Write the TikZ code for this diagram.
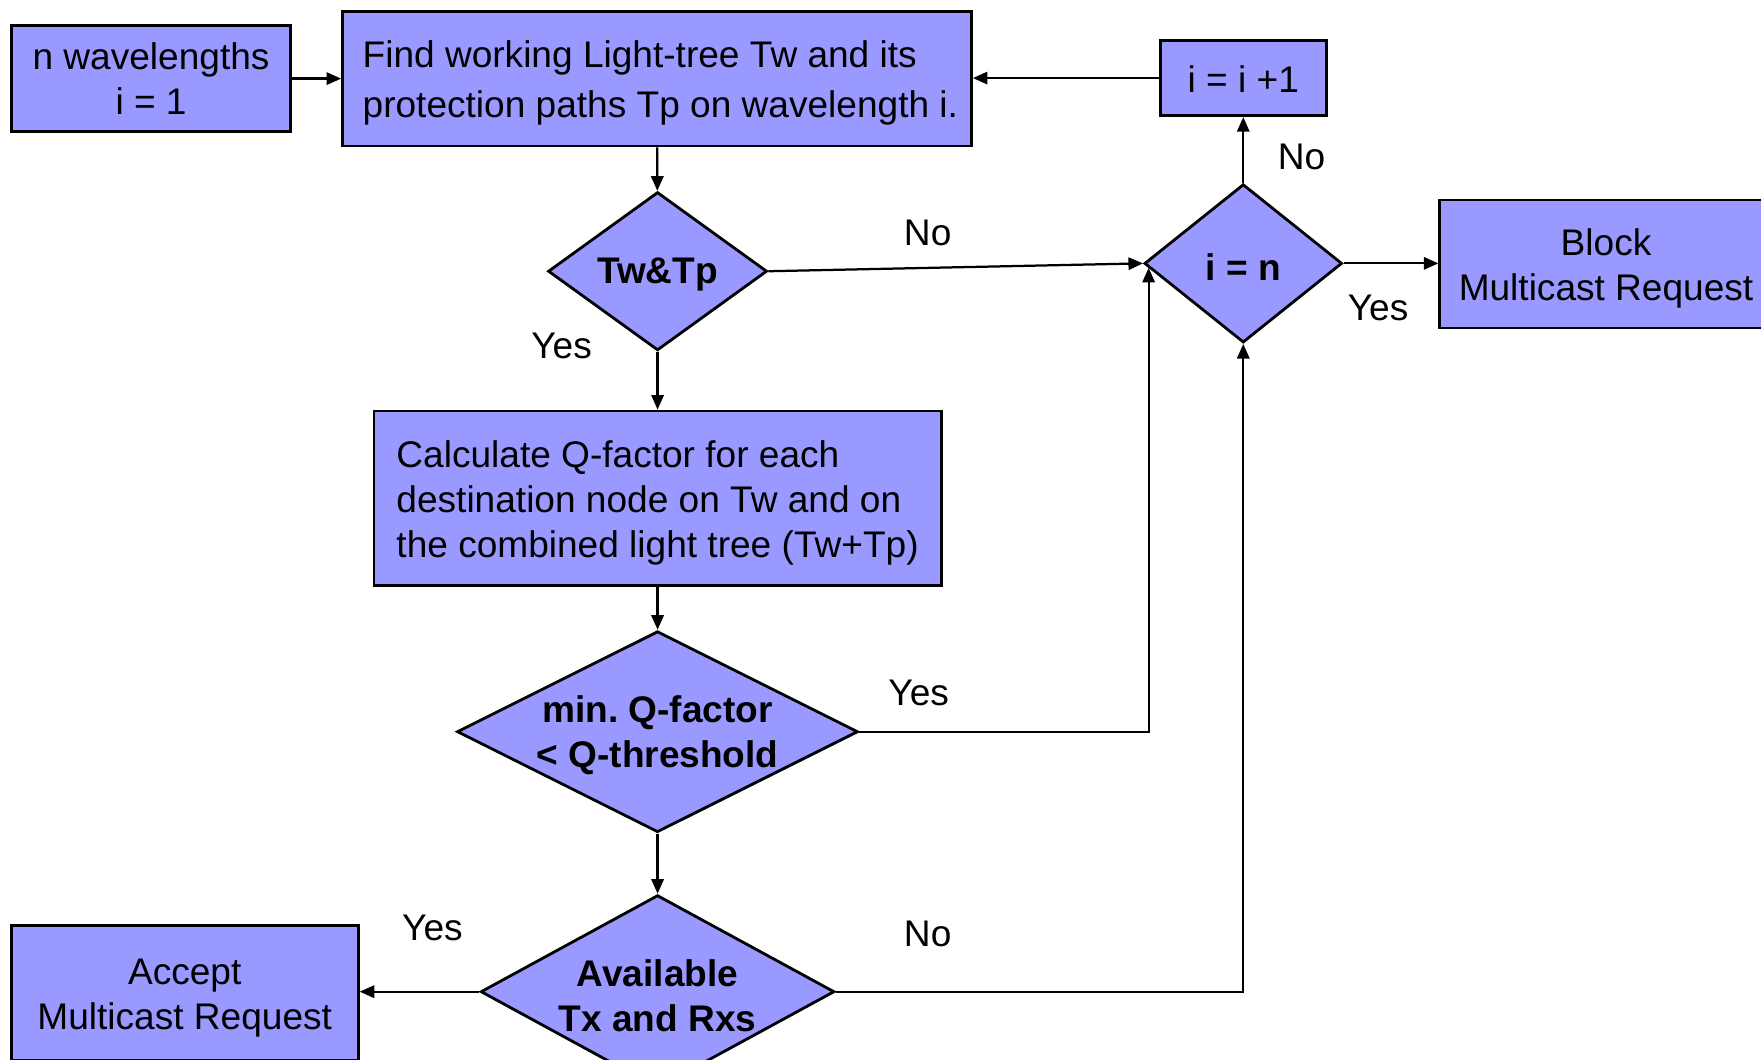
\documentclass[tikz,border=0pt]{standalone}
\usepackage{fontspec}
\setmainfont{Liberation Sans}
\usetikzlibrary{shapes.geometric,arrows.meta,calc}
\definecolor{boxfill}{HTML}{9999FF}
\frenchspacing
\begin{document}
\begin{tikzpicture}[x=1pt,y=-1pt,
  every node/.style={font=\fontsize{33}{40}\selectfont},
  box/.style={draw=black, line width=2.5pt, fill=boxfill, inner sep=0pt},
  dia/.style={diamond, draw=black, line width=2.5pt, fill=boxfill, inner sep=0pt},
  btext/.style={inner sep=0pt, align=center, yshift=-4pt, font=\fontsize{33}{40}\selectfont},
  dtext/.style={inner sep=0pt, align=center, yshift=-3pt, font=\fontsize{33}{40}\selectfont\bfseries},
  conn/.style={line width=2pt, -{Triangle[length=13pt,width=11pt]}},
  lbl/.style={inner sep=0pt}]
\useasboundingbox (0,0) rectangle (1568,943);
\clip (0,0) rectangle (1568,943);

\node[box, minimum width=249pt, minimum height=94pt, label={[btext,yshift=4pt]center:{n wavelengths\\i = 1}}] (a) at (134.5,70) {};
\node[box, minimum width=560pt, minimum height=120pt, label={[btext, align=left, xshift=3pt, font=\fontsize{33}{45}\selectfont]center:{Find working Light-tree Tw and its\\protection paths Tp on wavelength i.}}] (b) at (585,70) {};
\node[box, minimum width=148pt, minimum height=67pt, label={[btext,yshift=3pt]center:{i = i +1}}] (c) at (1107,69.5) {};
\node[dia, minimum width=195pt, minimum height=141pt, label={[dtext]center:Tw\&Tp}] (d1) at (585.5,241.5) {};
\node[dia, minimum width=176pt, minimum height=141pt, label={[dtext]center:i = n}] (dn) at (1107,234.5) {};
\node[box, minimum width=296pt, minimum height=114pt, label={[btext]center:{Block\\Multicast Request}}] (blk) at (1430,235) {};
\node[box, minimum width=505pt, minimum height=155pt, label={[btext, align=left]center:{Calculate Q-factor for each\\destination node on Tw and on\\the combined light tree (Tw+Tp)}}] (e) at (585.5,443.5) {};
\node[dia, minimum width=357pt, minimum height=179pt, label={[dtext]center:{min. Q-factor\\< Q-threshold}}] (d2) at (585.5,651.5) {};
\node[dia, minimum width=315pt, minimum height=172pt, label={[dtext,yshift=-1pt]center:{Available\\Tx and Rxs}}] (d3) at (585.5,883) {};
\node[box, minimum width=309pt, minimum height=120pt, label={[btext,yshift=-1pt]center:{Accept\\Multicast Request}}] (acc) at (164.5,884) {};

\coordinate (jn) at ([xshift=5pt,yshift=-4pt]dn.west);

\draw[conn] (a) -- (b);
\draw[conn] (c.west) -- (c.west -| b.east);
\draw[conn] (b) -- (d1);
\draw[conn] (d1.east) -- (dn.west);
\draw[conn] (d1) -- (e);
\draw[conn] (dn) -- (c);
\draw[conn] (dn.east) -- (dn.east -| blk.west);
\draw[conn] (e) -- (d2);
\draw[conn] (d2) -- (d3);
\draw[conn] (d2.east) -| (jn);
\draw[conn] (d3.west) -- (d3.west -| acc.east);
\draw[conn] (d3.east) -| (dn.south);

\node[lbl] (l1) at (826,207) {No};
\node[lbl] (l2) at (500,308) {Yes};
\node[lbl] (l3) at (1159,140) {No};
\node[lbl] (l4) at (1227,274) {Yes};
\node[lbl] (l5) at (818,617) {Yes};
\node[lbl] (l6) at (385,826) {Yes};
\node[lbl] (l7) at (826,832) {No};
\end{tikzpicture}
\end{document}
